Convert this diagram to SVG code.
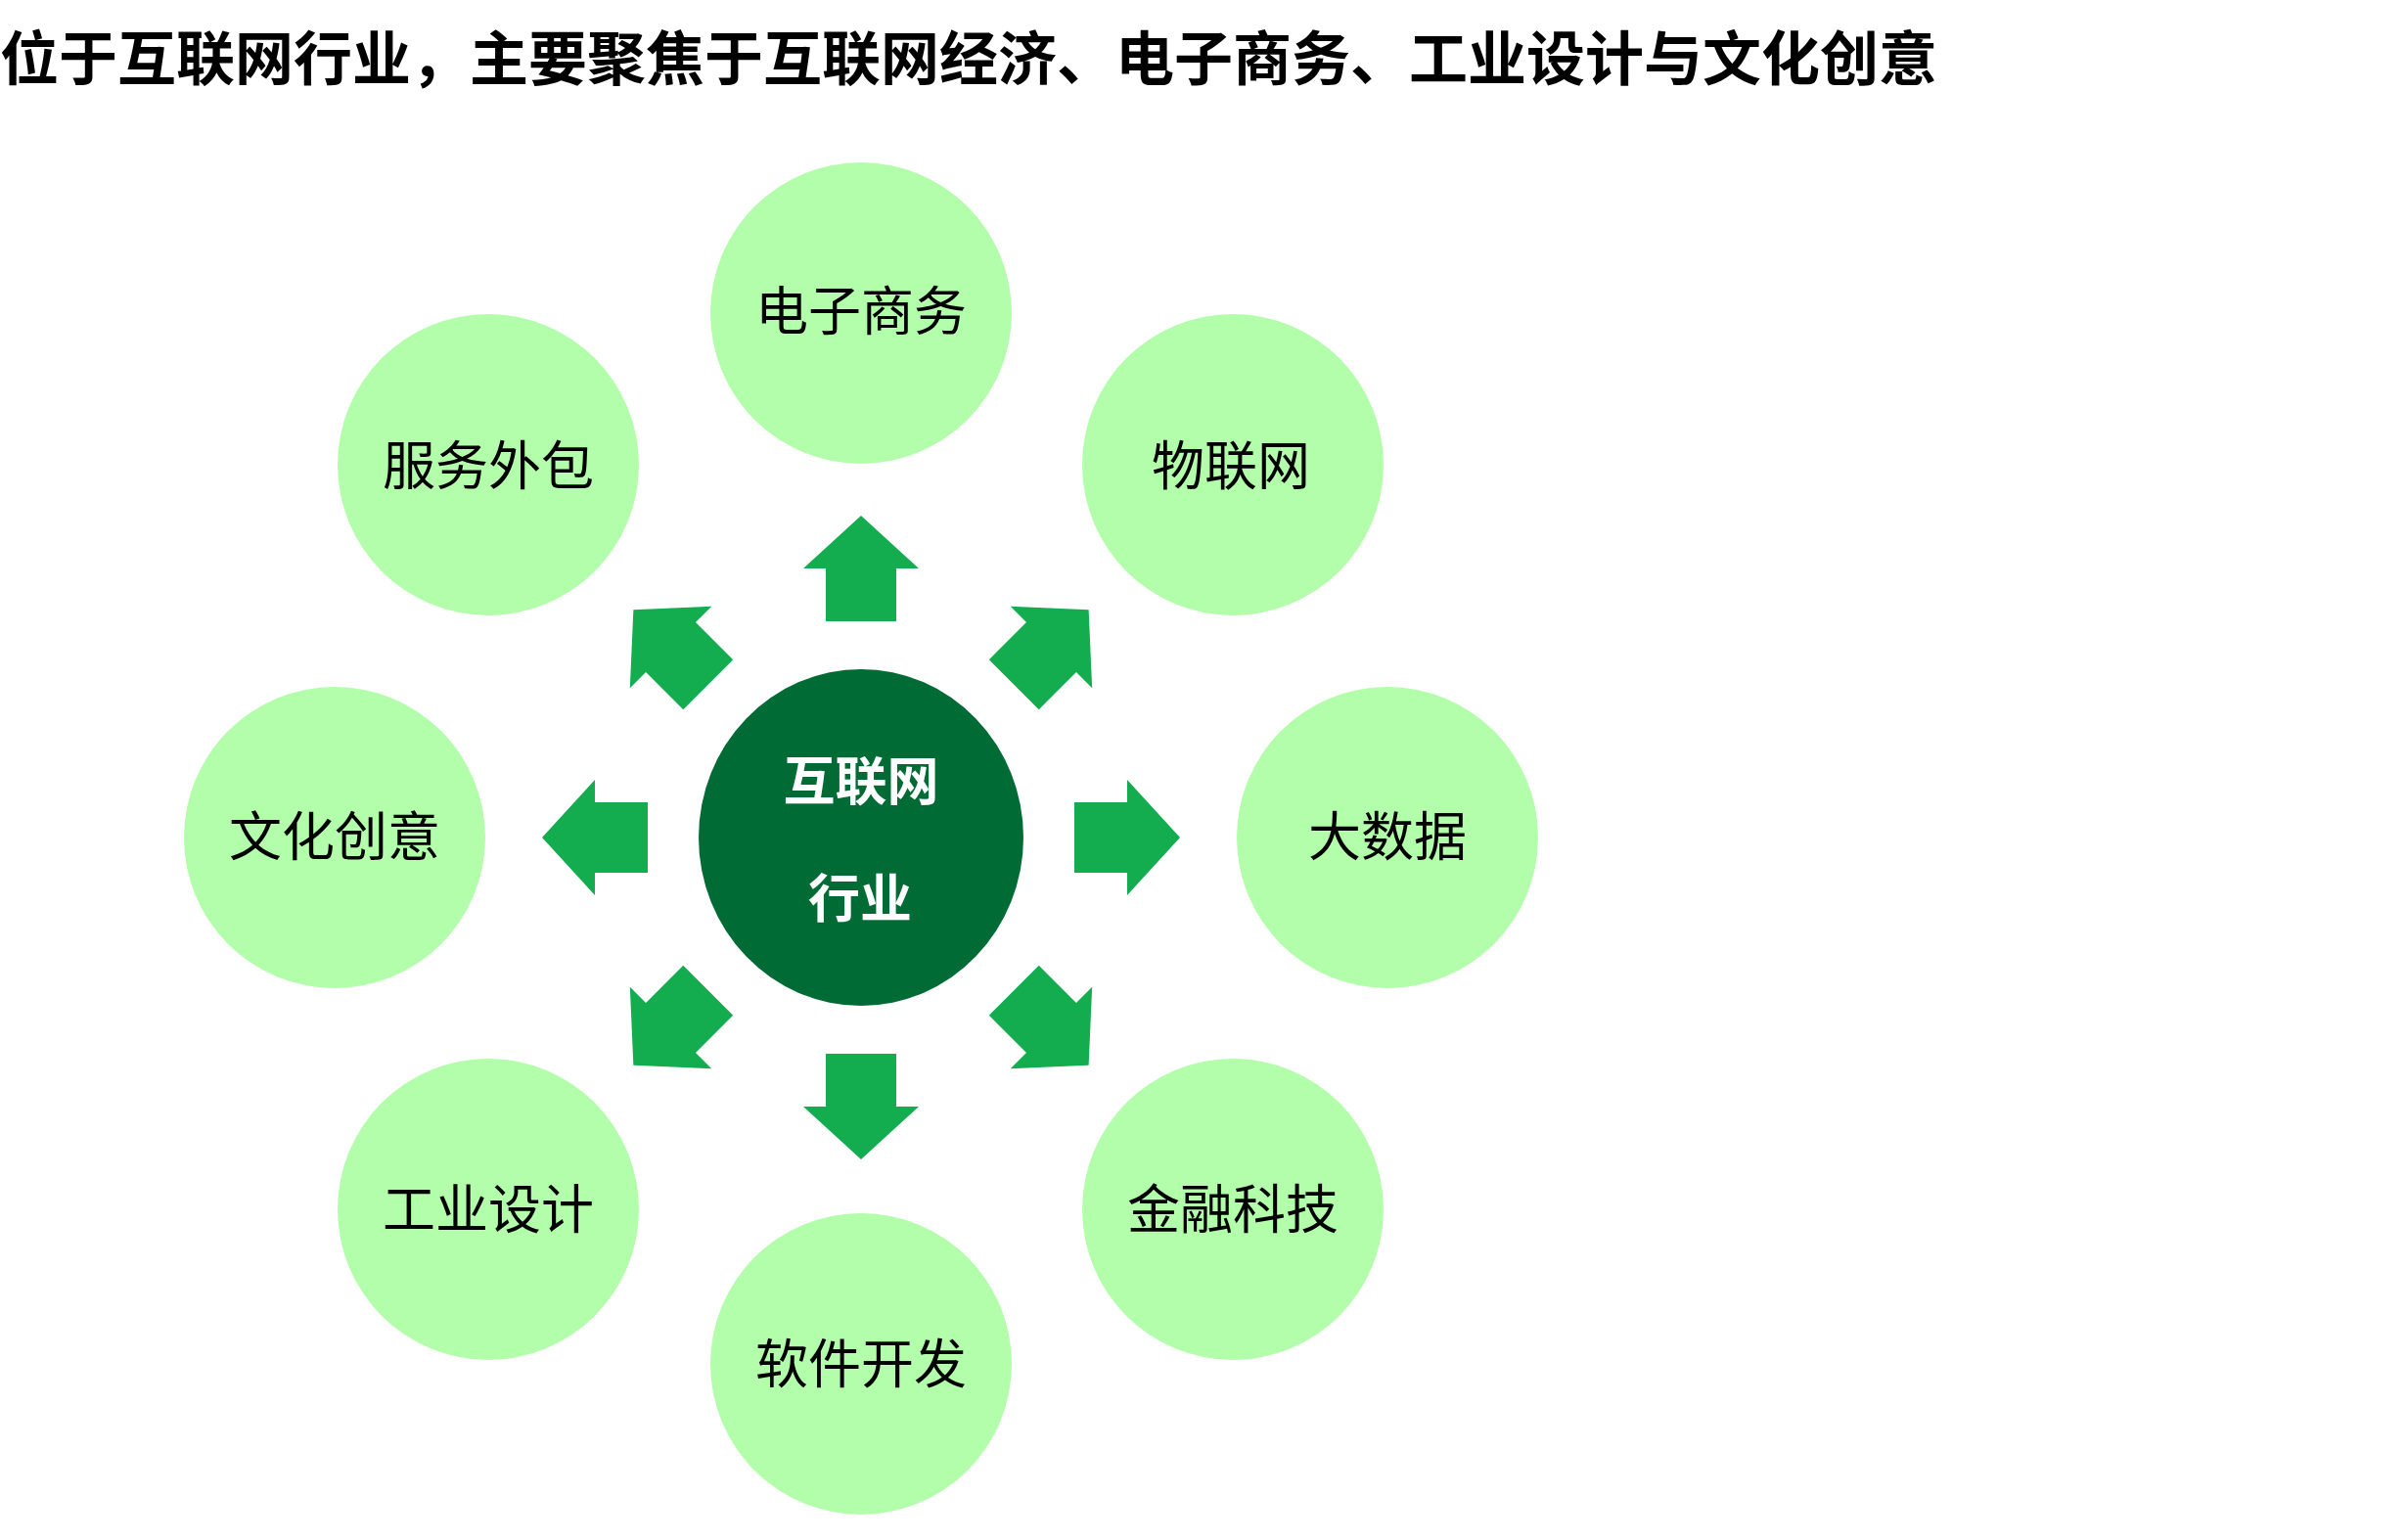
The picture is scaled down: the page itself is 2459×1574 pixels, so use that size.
<svg xmlns="http://www.w3.org/2000/svg" xmlns:xlink="http://www.w3.org/1999/xlink" width="2459" height="1574" viewBox="0 0 2459 1574">
<style>
.title{font-family:"Noto Sans CJK SC","Noto Sans",sans-serif;font-weight:700;font-size:60px;fill:#000}
.leaf{fill:#B3FEAA}
.leaft{font-family:"Noto Sans CJK SC","Noto Sans",sans-serif;font-size:54px;fill:#000;text-anchor:middle;dominant-baseline:central}
.hub{fill:#006B35}
.hubt{font-family:"Noto Sans CJK SC","Noto Sans",sans-serif;font-weight:700;font-size:53px;fill:#fff;text-anchor:middle;dominant-baseline:central}
.arr{fill:#13AD4F}
</style>
<defs>
<polygon id="arrow" points="0,-329 59,-275 36,-275 36,-221 -36,-221 -36,-275 -59,-275"/>
</defs>
<rect width="2459" height="1574" fill="#fff"/>
<text class="title" x="0" y="82">位于互联网行业，主要聚焦于互联网经济、电子商务、工业设计与文化创意</text>
<g id="connectors" class="arr">
<use xlink:href="#arrow" transform="translate(880,856) rotate(0)"/>
<use xlink:href="#arrow" transform="translate(880,856) rotate(45)"/>
<use xlink:href="#arrow" transform="translate(880,856) rotate(90) translate(0,3)"/>
<use xlink:href="#arrow" transform="translate(880,856) rotate(135)"/>
<use xlink:href="#arrow" transform="translate(880,856) rotate(180)"/>
<use xlink:href="#arrow" transform="translate(880,856) rotate(225)"/>
<use xlink:href="#arrow" transform="translate(880,856) rotate(270) translate(0,3)"/>
<use xlink:href="#arrow" transform="translate(880,856) rotate(315)"/>
</g>
<g id="hub">
<ellipse class="hub" cx="880" cy="856" rx="166" ry="172"/>
<text class="hubt" x="880" y="795">互联网</text>
<text class="hubt" x="879" y="915">行业</text>
</g>
<g id="n-ecommerce"><circle class="leaf" cx="880" cy="320" r="154"/><text class="leaft" x="880" y="314">电子商务</text></g>
<g id="n-iot"><circle class="leaf" cx="1260" cy="475" r="154"/><text class="leaft" x="1258" y="472">物联网</text></g>
<g id="n-bigdata"><circle class="leaf" cx="1418" cy="856" r="154"/><text class="leaft" x="1418" y="851">大数据</text></g>
<g id="n-fintech"><circle class="leaf" cx="1260" cy="1236" r="154"/><text class="leaft" x="1260" y="1232">金融科技</text></g>
<g id="n-software"><circle class="leaf" cx="880" cy="1394" r="154"/><text class="leaft" x="880" y="1390">软件开发</text></g>
<g id="n-design"><circle class="leaf" cx="499" cy="1236" r="154"/><text class="leaft" x="499" y="1232">工业设计</text></g>
<g id="n-culture"><circle class="leaf" cx="342" cy="856" r="154"/><text class="leaft" x="342" y="851">文化创意</text></g>
<g id="n-outsourcing"><circle class="leaf" cx="499" cy="475" r="154"/><text class="leaft" x="499" y="472">服务外包</text></g>
</svg>
